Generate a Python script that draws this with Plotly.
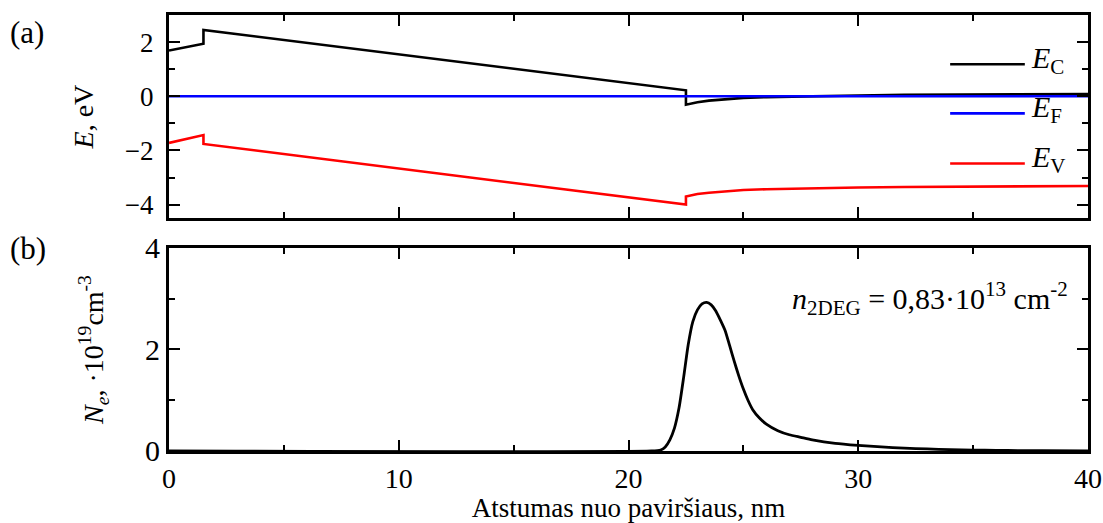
import plotly.graph_objects as go

# ---------------- data ----------------
x_band = [0, 1.5, 1.5, 22.5, 22.5, 22.7, 23, 23.5, 24, 24.5, 25, 26, 27, 28, 30, 32, 35, 40]
Ec = [1.69, 1.94, 2.45, 0.22, -0.31, -0.27, -0.22, -0.16, -0.12, -0.09, -0.06, -0.03, -0.01, 0.0, 0.03, 0.05, 0.07, 0.08]
Ev = [-1.72, -1.43, -1.76, -4.0, -3.70, -3.66, -3.61, -3.56, -3.52, -3.49, -3.46, -3.43, -3.41, -3.40, -3.37, -3.35, -3.33, -3.31]
x_ef = [0, 40]
Ef = [0, 0]

x_ne = [0, 21.0, 21.4, 21.6, 21.8, 22.0, 22.2, 22.4, 22.6, 22.8, 23.0, 23.2, 23.4, 23.6, 23.8, 24.0,
        24.2, 24.4, 24.6, 24.8, 25.0, 25.2, 25.4, 25.7, 26.0, 26.5, 27.0, 27.5, 28.0, 29.0, 30.0,
        31, 32, 33, 34, 35, 36, 37, 38, 40]
Ne = [0, 0, 0.02, 0.08, 0.22, 0.45, 0.85, 1.45, 2.1, 2.55, 2.78, 2.9, 2.93, 2.88, 2.76, 2.58,
      2.38, 2.08, 1.77, 1.48, 1.22, 1.0, 0.82, 0.65, 0.53, 0.40, 0.32, 0.27, 0.22, 0.15, 0.11,
      0.08, 0.055, 0.04, 0.027, 0.018, 0.012, 0.008, 0.005, 0.002]

legend_names = ["<i>E</i><sub>C</sub>", "<i>E</i><sub>F</sub>", "<i>E</i><sub>V</sub>"]
legend_colors = ["#000000", "#0000FF", "#FF0000"]
legend_y = [1.18, -0.63, -2.48]

FONT = "Liberation Serif, Times New Roman, serif"

fig = go.Figure()
fig.add_trace(go.Scatter(x=x_band, y=Ec, mode="lines", line=dict(color="#000000", width=2.6),
                         xaxis="x", yaxis="y", showlegend=False))
fig.add_trace(go.Scatter(x=x_ef, y=Ef, mode="lines", line=dict(color="#0000FF", width=2.6),
                         xaxis="x", yaxis="y", showlegend=False))
fig.add_trace(go.Scatter(x=x_band, y=Ev, mode="lines", line=dict(color="#FF0000", width=2.6),
                         xaxis="x", yaxis="y", showlegend=False))
fig.add_trace(go.Scatter(x=x_ne, y=Ne, mode="lines", line=dict(color="#000000", width=2.8, shape="spline", smoothing=0.6),
                         xaxis="x2", yaxis="y2", showlegend=False))

axis_common = dict(showline=True, linewidth=3, linecolor="black", mirror="ticks",
                   ticks="inside", ticklen=11, tickwidth=2, tickcolor="black",
                   showgrid=False, zeroline=False, automargin=False)

fig.update_layout(
    width=1103, height=523,
    margin=dict(l=169, r=15, t=15, b=72, autoexpand=False),
    plot_bgcolor="white", paper_bgcolor="white",
    font=dict(family=FONT, color="black", size=27),
    xaxis=dict(domain=[0, 1], anchor="y", range=[0, 40], dtick=10, showticklabels=False,
               minor=dict(dtick=5, ticks="inside", ticklen=6, tickwidth=2, tickcolor="black"),
               **axis_common),
    yaxis=dict(domain=[0.534, 1], anchor="x", range=[-4.5, 3], tickvals=[-4, -2, 0, 2],
               ticklabelstandoff=7, tickfont=dict(size=27),
               minor=dict(tickvals=[-3, -1, 1], ticks="inside", ticklen=6, tickwidth=2, tickcolor="black"),
               title=dict(text="<i>E</i>, eV", font=dict(size=28), standoff=24),
               **axis_common),
    xaxis2=dict(domain=[0, 1], anchor="y2", range=[0, 40], dtick=10,
                ticklabelstandoff=0, tickfont=dict(size=28),
                minor=dict(dtick=5, ticks="inside", ticklen=6, tickwidth=2, tickcolor="black"),
                title=dict(text="Atstumas nuo paviršiaus, nm", font=dict(size=27), standoff=2),
                **axis_common),
    yaxis2=dict(domain=[0, 0.4656], anchor="x2", range=[0, 4], tickvals=[0, 2, 4],
                ticklabelstandoff=0, tickfont=dict(size=30),
                minor=dict(tickvals=[1, 3], ticks="inside", ticklen=6, tickwidth=2, tickcolor="black"),
                title=dict(text="<i>N</i><sub><i>e</i></sub>, ·10<sup>19</sup>cm<sup>-3</sup>", font=dict(size=28), standoff=34),
                **axis_common),
)

# legend drawn in the top panel
for name, col, yv in zip(legend_names, legend_colors, legend_y):
    fig.add_shape(type="line", xref="x", yref="y", x0=34.0, x1=37.25, y0=yv, y1=yv,
                  line=dict(color=col, width=2.6))
    fig.add_annotation(x=37.45, y=yv, xref="x", yref="y", text=name, showarrow=False,
                       xanchor="left", yanchor="middle", yshift=4, font=dict(size=30, family=FONT))

fig.add_annotation(x=39.2, y=3.0, xref="x2", yref="y2",
                   text="<i>n</i><sub>2DEG</sub> = 0,83·10<sup>13</sup> cm<sup>-2</sup>",
                   showarrow=False, xanchor="right", yanchor="middle", font=dict(size=30, family=FONT))

fig.add_annotation(x=-0.175, y=0.961, xref="paper", yref="paper", text="(a)", showarrow=False,
                   xanchor="left", yanchor="middle", font=dict(size=31, family=FONT))
fig.add_annotation(x=-0.175, y=0.464, xref="paper", yref="paper", text="(b)", showarrow=False,
                   xanchor="left", yanchor="middle", font=dict(size=31, family=FONT))

fig.write_html("out.html")
